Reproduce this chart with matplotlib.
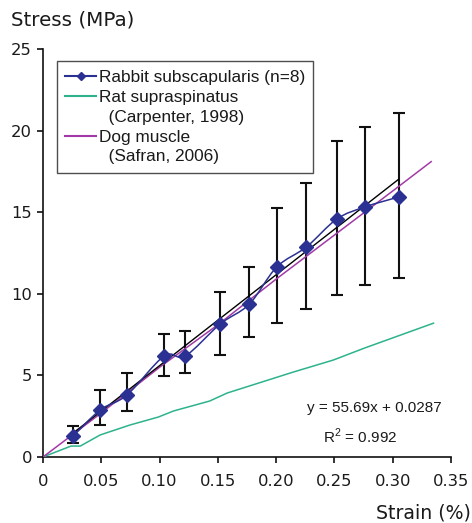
import numpy as np
import matplotlib
matplotlib.use('Agg')
import matplotlib.pyplot as plt
from matplotlib.path import Path
from matplotlib.patches import PathPatch
from matplotlib.lines import Line2D

plt.rcParams['font.family'] = ['Liberation Sans', 'DejaVu Sans']
plt.rcParams['mathtext.fontset'] = 'custom'
plt.rcParams['mathtext.rm'] = 'Liberation Sans'

# rabbit subscapularis means and error bar ends
rab_x = [0.026, 0.049, 0.072, 0.104, 0.122, 0.152, 0.177, 0.2005, 0.226, 0.252, 0.276, 0.305]
rab_y = [1.29, 2.88, 3.80, 6.19, 6.19, 8.15, 9.37, 11.64, 12.87, 14.58, 15.32, 15.93]
err_hi = [1.92, 4.10, 5.17, 7.56, 7.74, 10.11, 11.62, 15.26, 16.81, 19.38, 20.22, 21.08]
err_lo = [0.88, 1.94, 2.80, 4.96, 5.17, 6.25, 7.33, 8.19, 9.07, 9.90, 10.56, 10.97]

# rat supraspinatus (Carpenter, 1998)
rat_x = [0, 0.024, 0.032, 0.049, 0.0746, 0.099, 0.112, 0.143, 0.158, 0.2145, 0.249, 0.276, 0.335]
rat_y = [0, 0.67, 0.67, 1.35, 1.96, 2.45, 2.82, 3.43, 3.92, 5.20, 5.94, 6.68, 8.20]

# dog muscle (Safran, 2006)
dog_x = [0, 0.05, 0.10, 0.15, 0.20, 0.25, 0.30, 0.333]
dog_y = [0, 2.7, 5.5, 8.1, 10.9, 13.6, 16.3, 18.1]

# linear trendline
slope = 55.69
intercept = 0.0287
fit_range = [0.025, 0.305]

xticks = [0, 0.05, 0.10, 0.15, 0.20, 0.25, 0.30, 0.35]
xtick_labels = ['0', '0.05', '0.10', '0.15', '0.20', '0.25', '0.30', '0.35']
yticks = [0, 5, 10, 15, 20, 25]

blue = '#2b3192'
green = '#2db38c'
magenta = '#a23aa6'
ink = '#1a1a1a'

fig = plt.figure(figsize=(4.72, 5.23), dpi=100)
ax = fig.add_axes([0.0911, 0.1262, 0.8644, 0.7801])

# error bars (black, under the rest)
yerr = [np.array(rab_y) - np.array(err_lo), np.array(err_hi) - np.array(rab_y)]
ax.errorbar(rab_x, rab_y, yerr=yerr, fmt='none', ecolor='#111111',
            elinewidth=1.5, capsize=4, capthick=1.5, zorder=2)

ax.plot(rat_x, rat_y, color=green, lw=1.1, zorder=3)
ax.plot(dog_x, dog_y, color=magenta, lw=1.1, zorder=3)

fx = np.array(fit_range)
ax.plot(fx, slope * fx + intercept, color='black', lw=1.0, zorder=4)

# smoothed blue curve like excel's smooth line
px = np.array(rab_x)
py = np.array(rab_y)
verts = [(px[0], py[0])]
codes = [Path.MOVETO]
n = len(px)
for i in range(n - 1):
    p0 = np.array([px[max(i - 1, 0)], py[max(i - 1, 0)]])
    p1 = np.array([px[i], py[i]])
    p2 = np.array([px[i + 1], py[i + 1]])
    p3 = np.array([px[min(i + 2, n - 1)], py[min(i + 2, n - 1)]])
    c1 = p1 + (p2 - p0) / 6
    c2 = p2 - (p3 - p1) / 6
    verts += [tuple(c1), tuple(c2), tuple(p2)]
    codes += [Path.CURVE4] * 3
ax.add_patch(PathPatch(Path(verts, codes), facecolor='none', edgecolor=blue, lw=1.1, zorder=5))
ax.plot(rab_x, rab_y, ls='none', marker='D', ms=7, color=blue, mec=blue, zorder=6)

ax.set_xlim(0, 0.35)
ax.set_ylim(0, 25)
ax.set_xticks(xticks)
ax.set_xticklabels(xtick_labels)
ax.set_yticks(yticks)
for s in ['top', 'right']:
    ax.spines[s].set_visible(False)
for s in ['left', 'bottom']:
    ax.spines[s].set_linewidth(1.2)
    ax.spines[s].set_color('#111111')
ax.tick_params(direction='out', length=4, width=1.2, color='#111111')
ax.tick_params(axis='x', pad=8.5)
ax.tick_params(axis='y', pad=4)
for lab in ax.get_xticklabels() + ax.get_yticklabels():
    lab.set_family('DejaVu Sans')
    lab.set_fontsize(11.8)
    lab.set_color(ink)

fig.text(0.023, 0.962, 'Stress (MPa)', fontsize=14.3, family='DejaVu Sans',
         color=ink, va='center', ha='left')
fig.text(0.997, 0.019, 'Strain (%)', fontsize=13.6, family='DejaVu Sans',
         color=ink, va='center', ha='right')

ax.text(0.2844, 3.0, 'y = 55.69x + 0.0287', fontsize=11, color=ink, ha='center', va='center')
ax.text(0.272, 1.29, r'R$^{2}$ = 0.992', fontsize=11, color=ink, ha='center', va='center')

handles = [
    Line2D([], [], color=blue, lw=1.5, marker='D', ms=4),
    Line2D([], [], color=green, lw=1.5),
    Line2D([], [], color='none'),
    Line2D([], [], color=magenta, lw=1.5),
    Line2D([], [], color='none'),
]
labels = ['Rabbit subscapularis (n=8)', 'Rat supraspinatus', '  (Carpenter, 1998)',
          'Dog muscle', '  (Safran, 2006)']
leg = ax.legend(handles, labels, loc='upper left', bbox_to_anchor=(0.034, 0.97),
                borderaxespad=0, fontsize=12.4, frameon=True, fancybox=False,
                handlelength=1.75, handletextpad=0.17, labelspacing=0.28,
                borderpad=0.5, edgecolor='#222222')
leg.get_frame().set_linewidth(1.0)
for t in leg.get_texts():
    t.set_color(ink)

fig.savefig('out.png', dpi=100)
